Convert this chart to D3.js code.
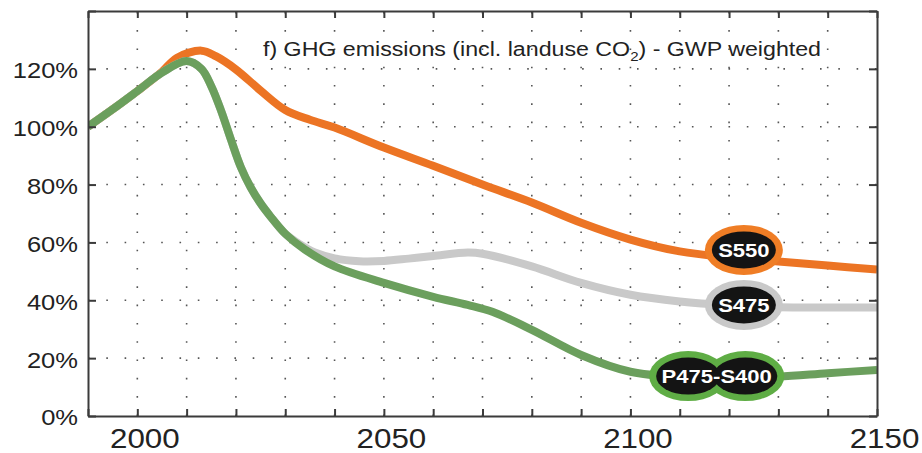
<!DOCTYPE html>
<html>
<head>
<meta charset="utf-8">
<script src="https://cdn.jsdelivr.net/npm/d3@7"></script>
<style>
  body { margin: 0; background: #fff; }
  text { font-family: "Liberation Sans", Arial, Helvetica, sans-serif; }
</style>
</head>
<body>
<svg id="chart" width="922" height="453"></svg>
<script>
// S550 (orange)
const s550Years  = [1990, 1995, 2000, 2005, 2008, 2013, 2016, 2020, 2025, 2030, 2035, 2040, 2050, 2060, 2070, 2080, 2090, 2100, 2110, 2120, 2130, 2140, 2150];
const s550Values = [100, 106, 112.3, 119, 123.8, 126.3, 124.3, 119.8, 112.5, 105.8, 102.4, 99.7, 92.8, 86.5, 80, 73.8, 66.8, 61, 56.9, 54.8, 53.4, 52, 50.6];

// S475 (grey)
const s475Years  = [1990, 1995, 2000, 2005, 2010, 2013, 2015, 2017, 2019, 2021, 2023, 2025, 2027, 2030, 2033, 2036, 2040, 2045, 2050, 2055, 2060, 2067, 2070, 2080, 2090, 2100, 2110, 2120, 2130, 2140, 2150];
const s475Values = [100, 106, 112.3, 118.7, 122.7, 120, 114, 105.5, 95.5, 86, 79, 73.5, 69, 63, 59.3, 56.5, 54.5, 53.5, 53.6, 54.4, 55.3, 56.5, 56.1, 51.7, 46, 41.9, 39.6, 38.3, 37.6, 37.5, 37.5];

// P475-S400 (green)
const p475Years  = [1990, 1995, 2000, 2005, 2010, 2013, 2015, 2017, 2019, 2021, 2023, 2025, 2027, 2030, 2034, 2040, 2050, 2060, 2067, 2072, 2080, 2090, 2100, 2110, 2120, 2130, 2140, 2150];
const p475Values = [100, 106, 112.3, 118.7, 122.7, 120, 114, 105.5, 95.5, 86, 79, 73.5, 69, 63, 57.5, 51.7, 46, 41.2, 38.4, 36, 29.8, 21.1, 15.3, 13.5, 13.3, 13.6, 14.8, 15.9];

const tickYears  = [1990, 2000, 2010, 2020, 2030, 2040, 2050, 2060, 2070, 2080, 2090, 2100, 2110, 2120, 2130, 2140, 2150];
const labelYears = [2000, 2050, 2100, 2150];
const tickValues = [0, 20, 40, 60, 80, 100, 120, 140];
const gridYears  = [2000, 2010, 2020, 2030, 2040, 2050, 2060, 2070, 2080, 2090, 2100, 2110, 2120, 2130, 2140];
const gridValues = [20, 40, 60, 80, 100, 120];

// scenario tags: name, year(s) of bubble centres, value
const tagNames  = ['S550', 'S475', 'P475-S400'];
const tagYears  = [[2123], [2123], [2111.7, 2123.3]];
const tagValues = [57.4, 38.4, 13.8];

const width = 922, height = 453;
const margin = { top: 11, right: 45, bottom: 37, left: 88 };
const stretch = 1.16; // text in the reference is drawn a little wide

const svg = d3.select('#chart');

const x = d3.scaleLinear().domain([1990, 2150]).range([margin.left, width - margin.right]);
const y = d3.scaleLinear().domain([0, 140]).range([height - margin.bottom, margin.top]);

// dotted grid
const grid = svg.append('g')
  .attr('stroke', '#555')
  .attr('stroke-width', 1.6)
  .attr('stroke-dasharray', '1.6,16.7');

grid.selectAll('.vg')
  .data(gridYears)
  .join('line')
  .attr('class', 'vg')
  .attr('x1', d => x(d)).attr('x2', d => x(d))
  .attr('y1', y(0)).attr('y2', y(140));

grid.selectAll('.hg')
  .data(gridValues)
  .join('line')
  .attr('class', 'hg')
  .attr('x1', x(1990)).attr('x2', x(2150))
  .attr('y1', d => y(d)).attr('y2', d => y(d));

// series lines
svg.append('clipPath').attr('id', 'plot')
  .append('rect')
  .attr('x', x(1990)).attr('y', y(140))
  .attr('width', x(2150) - x(1990)).attr('height', y(0) - y(140));

const series = [
  { years: s550Years, values: s550Values, color: '#ec7424' },
  { years: s475Years, values: s475Values, color: '#c9c9c9' },
  { years: p475Years, values: p475Values, color: '#6b9f5d' }
];

const line = d3.line()
  .x(d => x(d[0]))
  .y(d => y(d[1]))
  .curve(d3.curveCatmullRom.alpha(0.5));

svg.append('g')
  .attr('clip-path', 'url(#plot)')
  .selectAll('path')
  .data(series)
  .join('path')
  .attr('fill', 'none')
  .attr('stroke', d => d.color)
  .attr('stroke-width', 8)
  .attr('stroke-linejoin', 'round')
  .attr('d', d => line(d.years.map((yr, i) => [yr, d.values[i]])));

// axes (box with inward ticks)
const axisColor = '#3b3b3b';

function styleAxis(g) {
  g.select('.domain').attr('stroke', axisColor).attr('stroke-width', 2);
  g.selectAll('.tick line').attr('stroke', axisColor).attr('stroke-width', 2);
}

const xAxis = svg.append('g')
  .attr('transform', `translate(0,${y(0)})`)
  .call(d3.axisBottom(x)
    .tickValues(tickYears)
    .tickSize(-7)
    .tickSizeOuter(0)
    .tickPadding(0)
    .tickFormat(d => labelYears.includes(d) ? d : ''))
  .call(styleAxis);

xAxis.selectAll('.tick text')
  .attr('y', 0).attr('dy', 0)
  .attr('transform', `translate(7,32) scale(${stretch},1)`)
  .attr('fill', '#222')
  .attr('font-size', 27);

svg.append('g')
  .attr('transform', `translate(0,${y(140)})`)
  .call(d3.axisTop(x).tickValues(tickYears).tickSize(-7).tickSizeOuter(0).tickFormat(''))
  .call(styleAxis);

const yAxis = svg.append('g')
  .attr('transform', `translate(${x(1990)},0)`)
  .call(d3.axisLeft(y)
    .tickValues(tickValues)
    .tickSize(-8)
    .tickSizeOuter(0)
    .tickFormat(d => d === 140 ? '' : d + '%'))
  .call(styleAxis);

yAxis.selectAll('.tick text')
  .attr('x', 0).attr('dy', '0.36em')
  .attr('transform', `translate(-10,1) scale(${stretch},1)`)
  .attr('fill', '#222')
  .attr('font-size', 22);

svg.append('g')
  .attr('transform', `translate(${x(2150)},0)`)
  .call(d3.axisRight(y).tickValues(tickValues).tickSize(-8).tickSizeOuter(0).tickFormat(''))
  .call(styleAxis);

// scenario tags
const tagRing = ['#ef7d25', '#c9c9c9', '#5fad45'];
const tags = svg.append('g');

tagNames.forEach((name, i) => {
  const g = tags.append('g');
  g.selectAll('.ring')
    .data(tagYears[i])
    .join('ellipse')
    .attr('class', 'ring')
    .attr('cx', d => x(d)).attr('cy', y(tagValues[i]))
    .attr('rx', 39).attr('ry', 25)
    .attr('fill', tagRing[i]);
  g.selectAll('.core')
    .data(tagYears[i])
    .join('ellipse')
    .attr('class', 'core')
    .attr('cx', d => x(d)).attr('cy', y(tagValues[i]))
    .attr('rx', 32).attr('ry', 18.5)
    .attr('fill', '#141414');
  g.append('text')
    .attr('transform', `translate(${x(d3.mean(tagYears[i]))},${y(tagValues[i]) + 7}) scale(${stretch},1)`)
    .attr('text-anchor', 'middle')
    .attr('fill', '#fff')
    .attr('font-weight', 'bold')
    .attr('font-size', 19)
    .text(name);
});

// title
const title = svg.append('text')
  .attr('transform', `translate(263,56) scale(${stretch},1)`)
  .attr('fill', '#222')
  .attr('font-size', 20);
title.append('tspan').text('f) GHG emissions (incl. landuse CO');
title.append('tspan').attr('font-size', 13).attr('dy', 5).text('2');
title.append('tspan').attr('dy', -5).text(') - GWP weighted');
</script>
</body>
</html>
